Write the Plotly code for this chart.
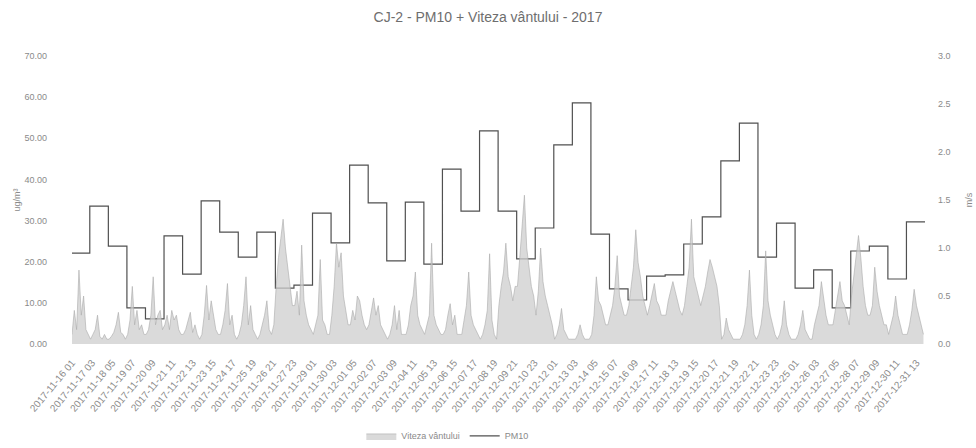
import pandas as pd
import plotly.graph_objects as go

# Daily PM10 averages (ug/m3), 2017-11-16 .. 2017-12-31
days = pd.date_range("2017-11-16", "2017-12-31", freq="D")
pm10 = [22.1, 33.5, 23.8, 8.8, 6.1, 26.3, 17.0, 34.8, 27.2, 21.1,
        27.2, 13.6, 14.3, 31.8, 24.6, 43.5, 34.3, 20.2, 34.5, 19.4,
        42.5, 32.3, 51.8, 32.3, 20.7, 28.2, 48.4, 58.6, 26.7, 13.4,
        10.7, 16.5, 16.8, 24.3, 30.9, 44.5, 53.7, 21.1, 29.4, 13.6,
        18.0, 8.8, 22.6, 23.8, 15.8, 29.7]

# Wind speed (m/s), read every 3 hours (01, 04, ... 22), one row per day
wind = [
    [0.10, 0.35, 0.15, 0.77, 0.30, 0.50, 0.15, 0.10],
    [0.05, 0.10, 0.15, 0.30, 0.08, 0.05, 0.10, 0.05],
    [0.05, 0.08, 0.12, 0.20, 0.33, 0.12, 0.10, 0.05],
    [0.10, 0.25, 0.60, 0.20, 0.35, 0.15, 0.20, 0.10],
    [0.10, 0.15, 0.30, 0.70, 0.20, 0.30, 0.35, 0.15],
    [0.20, 0.30, 0.15, 0.35, 0.25, 0.30, 0.15, 0.10],
    [0.10, 0.15, 0.25, 0.33, 0.12, 0.20, 0.10, 0.05],
    [0.10, 0.30, 0.61, 0.25, 0.45, 0.30, 0.15, 0.10],
    [0.10, 0.20, 0.35, 0.63, 0.20, 0.30, 0.10, 0.05],
    [0.10, 0.20, 0.40, 0.70, 0.20, 0.40, 0.15, 0.10],
    [0.05, 0.10, 0.20, 0.30, 0.45, 0.15, 0.10, 0.20],
    [0.60, 0.90, 1.10, 1.30, 1.00, 0.80, 0.55, 0.40],
    [0.40, 0.55, 0.30, 1.03, 0.45, 0.30, 0.20, 0.15],
    [0.10, 0.20, 0.30, 0.88, 0.25, 0.20, 0.10, 0.10],
    [0.30, 0.60, 1.05, 0.80, 0.95, 0.50, 0.35, 0.20],
    [0.20, 0.35, 0.25, 0.50, 0.45, 0.30, 0.20, 0.15],
    [0.20, 0.35, 0.48, 0.30, 0.40, 0.20, 0.15, 0.10],
    [0.05, 0.10, 0.20, 0.40, 0.15, 0.35, 0.10, 0.10],
    [0.10, 0.20, 0.40, 0.50, 0.75, 0.30, 0.20, 0.15],
    [0.10, 0.20, 0.30, 1.05, 0.30, 0.20, 0.15, 0.10],
    [0.10, 0.15, 0.30, 0.42, 0.20, 0.30, 0.10, 0.10],
    [0.10, 0.25, 0.40, 0.75, 0.30, 0.20, 0.15, 0.10],
    [0.05, 0.10, 0.20, 0.35, 0.94, 0.25, 0.10, 0.05],
    [0.40, 0.60, 0.75, 1.05, 0.70, 0.60, 0.45, 0.60],
    [0.60, 0.90, 1.20, 1.55, 1.00, 0.80, 0.60, 0.50],
    [0.30, 0.55, 1.00, 0.65, 0.50, 0.40, 0.30, 0.20],
    [0.05, 0.10, 0.20, 0.37, 0.15, 0.10, 0.05, 0.05],
    [0.05, 0.05, 0.10, 0.20, 0.10, 0.05, 0.05, 0.05],
    [0.10, 0.30, 0.70, 0.45, 0.40, 0.30, 0.20, 0.20],
    [0.30, 0.40, 0.60, 0.92, 0.50, 0.40, 0.30, 0.30],
    [0.40, 0.60, 0.80, 1.19, 0.85, 0.70, 0.50, 0.40],
    [0.30, 0.40, 0.50, 0.63, 0.45, 0.40, 0.30, 0.30],
    [0.30, 0.45, 0.55, 0.65, 0.55, 0.45, 0.35, 0.30],
    [0.40, 0.60, 0.80, 1.30, 0.70, 0.60, 0.50, 0.40],
    [0.50, 0.60, 0.75, 0.88, 0.80, 0.70, 0.60, 0.40],
    [0.05, 0.10, 0.27, 0.15, 0.10, 0.05, 0.05, 0.05],
    [0.05, 0.10, 0.20, 0.40, 0.77, 0.30, 0.10, 0.05],
    [0.10, 0.20, 0.40, 0.97, 0.45, 0.30, 0.20, 0.10],
    [0.05, 0.10, 0.20, 0.45, 0.20, 0.10, 0.05, 0.05],
    [0.05, 0.10, 0.20, 0.35, 0.15, 0.10, 0.05, 0.05],
    [0.20, 0.30, 0.40, 0.65, 0.45, 0.30, 0.20, 0.20],
    [0.20, 0.35, 0.50, 0.65, 0.45, 0.40, 0.30, 0.20],
    [0.50, 0.70, 0.95, 1.13, 0.90, 0.60, 0.40, 0.30],
    [0.30, 0.40, 0.80, 0.55, 0.40, 0.30, 0.20, 0.20],
    [0.10, 0.20, 0.30, 0.50, 0.30, 0.20, 0.10, 0.10],
    [0.10, 0.20, 0.35, 0.57, 0.40, 0.30, 0.20, 0.10],
]
wind_hours = [1, 4, 7, 10, 13, 16, 19, 22]

wind_x, wind_y = [], []
for d, row in zip(days, wind):
    for h, v in zip(wind_hours, row):
        wind_x.append(d + pd.Timedelta(hours=h))
        wind_y.append(v)

# step line: one segment per day, last one held to the end of the year
pm_x = [days[0] + pd.Timedelta(hours=1)] + list(days[1:]) + [pd.Timestamp("2018-01-01")]
pm_y = pm10 + [pm10[-1]]

fig = go.Figure()
fig.add_trace(go.Scatter(
    x=wind_x, y=wind_y, name="Viteza vântului", yaxis="y2",
    mode="lines", fill="tozeroy",
    line=dict(color="#aaaaaa", width=0.6),
    fillcolor="rgba(205,205,205,0.75)",
))
fig.add_trace(go.Scatter(
    x=pm_x, y=pm_y, name="PM10", mode="lines",
    line=dict(color="#505050", width=1.2, shape="hv"),
))

txt = "#8a8a8a"
tick_font = dict(family="Liberation Sans, Arial", size=9, color=txt)
fig.update_layout(
    width=976, height=448,
    margin=dict(l=72, r=51, t=56, b=104),
    plot_bgcolor="white", paper_bgcolor="white",
    title=dict(text="CJ-2 - PM10 + Viteza vântului - 2017", x=0.5, y=0.962,
               xanchor="center", yanchor="middle",
               font=dict(family="Liberation Sans, Arial", size=14, color="#6e6e6e")),
    xaxis=dict(
        type="date", automargin=False,
        range=["2017-11-16 01:00", "2018-01-01 00:00"],
        tick0="2017-11-16 01:00", dtick=26 * 3600 * 1000,
        tickformat="%Y-%m-%d %H", tickangle=-50, ticklabelstandoff=10,
        tickfont=dict(family="Liberation Sans, Arial", size=10, color=txt),
        showgrid=False, showline=False, ticks="",
    ),
    yaxis=dict(
        range=[0, 70], dtick=10, tickformat=".2f", tickfont=tick_font, automargin=False,
        showgrid=False, zeroline=False, showline=False, ticklabelstandoff=24,
        title=dict(text="ug/m³", font=dict(family="Liberation Sans, Arial", size=9, color=txt), standoff=2),
    ),
    yaxis2=dict(
        overlaying="y", side="right", range=[0, 3], dtick=0.5, tickformat=".1f", automargin=False,
        tickfont=tick_font, showgrid=False, zeroline=False, showline=False, ticklabelstandoff=12,
        title=dict(text="m/s", font=dict(family="Liberation Sans, Arial", size=9, color=txt), standoff=16),
    ),
    legend=dict(orientation="h", x=0.44, xanchor="center", yref="container", y=0.027,
                yanchor="middle", font=dict(family="Liberation Sans, Arial", size=9, color=txt)),
)

# drop the page's default body margin so the figure sits at the window origin
fig.write_html("out.html", config={"displayModeBar": False},
               post_script="document.body.style.margin='0';")
